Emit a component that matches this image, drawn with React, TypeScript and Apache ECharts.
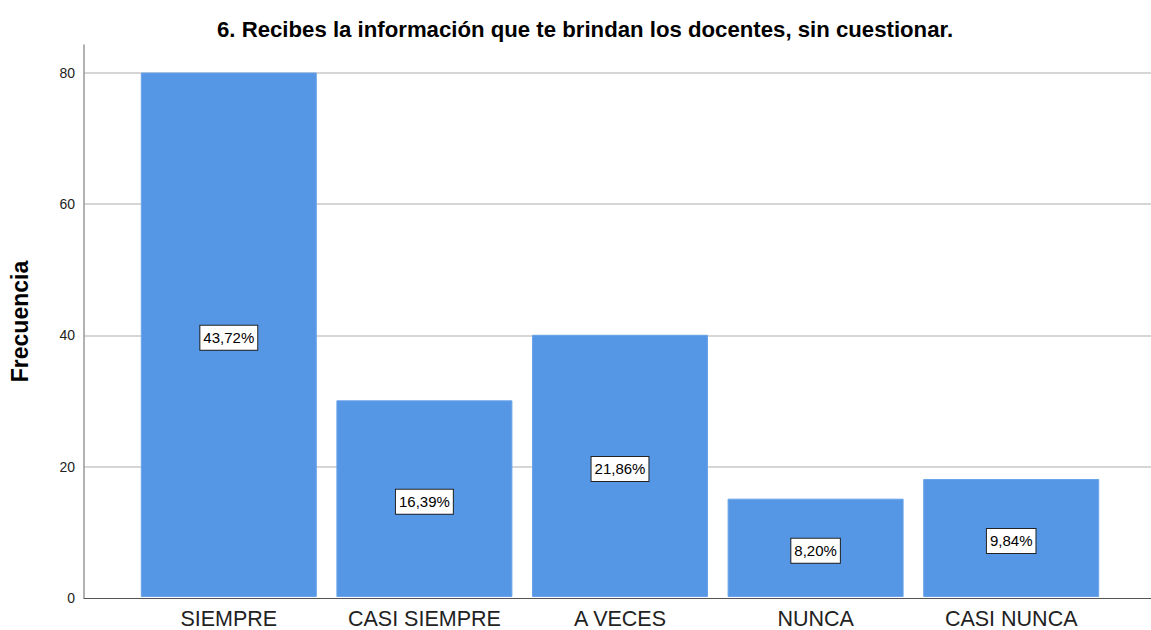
import React, { useEffect, useRef } from "react";
import * as echarts from "echarts";

const titleText = "6. Recibes la información que te brindan los docentes, sin cuestionar.";
const categories = ["SIEMPRE", "CASI SIEMPRE", "A VECES", "NUNCA", "CASI NUNCA"];
const frequencies = [80, 30, 40, 15, 18];
const percentLabels = ["43,72%", "16,39%", "21,86%", "8,20%", "9,84%"];
const yTicks = [0, 20, 40, 60, 80];
const yMax = 84.2;

export default function App() {
  const ref = useRef<HTMLDivElement>(null);
  useEffect(() => {
    if (!ref.current) return;
    const chart = echarts.init(ref.current, undefined, { renderer: "svg" });
    const font = "Arial, 'Liberation Sans', sans-serif";
    chart.setOption({
      animation: false,
      backgroundColor: "#ffffff",
      title: {
        text: titleText,
        left: 212,
        top: 13,
        textStyle: { fontFamily: font, fontSize: 22.2, fontWeight: "bold", color: "#000" },
      },
      grid: [
        { left: 77, right: 0, top: 45, bottom: 32 },
        { left: 131, right: 42, top: 45, bottom: 32 },
      ],
      xAxis: [
        {
          type: "category",
          gridIndex: 0,
          data: [""],
          axisLine: { show: true, lineStyle: { color: "#555", width: 1 } },
          axisTick: { show: false },
          axisLabel: { show: false },
          splitLine: { show: false },
        },
        {
          type: "category",
          gridIndex: 1,
          data: categories,
          axisLine: { show: false },
          axisTick: { show: false },
          axisLabel: { interval: 0, hideOverlap: false, fontFamily: font, fontSize: 21.5, color: "#222", margin: 11 },
        },
      ],
      yAxis: [
        {
          type: "value",
          gridIndex: 0,
          min: 0,
          max: yMax,
          interval: 20,
          name: "Frecuencia",
          nameLocation: "middle",
          nameGap: 53,
          nameTextStyle: { fontFamily: font, fontSize: 23, fontWeight: "bold", color: "#000" },
          axisLine: { show: true, lineStyle: { color: "#999", width: 1.5 } },
          axisTick: { show: false },
          axisLabel: {
            fontFamily: font,
            fontSize: 14,
            color: "#222",
            margin: 9,
            showMaxLabel: false,
            formatter: (v: number) => (yTicks.includes(v) ? String(v) : ""),
          },
          splitLine: { show: true, showMinLine: false, showMaxLine: false, lineStyle: { color: "#c8c8c8", width: 1.5 } },
        },
        {
          type: "value",
          gridIndex: 1,
          min: 0,
          max: yMax,
          show: false,
          splitLine: { show: false },
        },
      ],
      series: [
        {
          type: "bar",
          xAxisIndex: 1,
          yAxisIndex: 1,
          data: frequencies,
          barWidth: 176,
          itemStyle: { color: "#5596e5", borderColor: "#6aa3ea", borderWidth: 1 },
          label: {
            show: true,
            position: "inside",
            offset: [0, 3],
            formatter: (p: any) => percentLabels[p.dataIndex],
            fontFamily: font,
            fontSize: 15,
            color: "#000",
            backgroundColor: "#ffffff",
            borderColor: "#222",
            borderWidth: 1,
            padding: [5, 3, 4, 3],
          },
        },
      ],
    });
    return () => chart.dispose();
  }, []);
  return (
    <div
      ref={ref}
      style={{ position: "fixed", left: 0, top: 0, width: 1151, height: 630 }}
    />
  );
}
